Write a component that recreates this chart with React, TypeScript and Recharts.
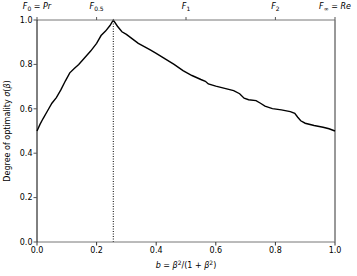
import React from 'react';
import { LineChart, Line, XAxis, YAxis, ReferenceLine, Label } from 'recharts';

// mixing parameter b = beta^2/(1+beta^2)
const bValues = [
  0, 0.01, 0.02, 0.035, 0.05, 0.065, 0.08, 0.095, 0.11, 0.125, 0.14, 0.16, 0.18, 0.2, 0.215, 0.23,
  0.245, 0.256, 0.27, 0.285, 0.3, 0.32, 0.34, 0.36, 0.38, 0.4, 0.43, 0.46, 0.49, 0.52, 0.55, 0.565,
  0.575, 0.6, 0.63, 0.66, 0.68, 0.695, 0.71, 0.735, 0.75, 0.765, 0.79, 0.82, 0.85, 0.865, 0.875,
  0.885, 0.9, 0.93, 0.96, 0.98, 1.0,
];
const optimality = [
  0.5, 0.53, 0.555, 0.59, 0.625, 0.65, 0.685, 0.725, 0.762, 0.782, 0.8, 0.83, 0.86, 0.895, 0.93, 0.95,
  0.975, 1.0, 0.972, 0.947, 0.935, 0.915, 0.895, 0.88, 0.865, 0.85, 0.825, 0.8, 0.772, 0.75, 0.732,
  0.724, 0.712, 0.702, 0.692, 0.682, 0.668, 0.648, 0.641, 0.637, 0.625, 0.612, 0.601, 0.595, 0.587,
  0.58, 0.562, 0.546, 0.535, 0.525, 0.517, 0.51, 0.5,
];
const peakB = 0.256;

const bottomTicks = [0, 0.2, 0.4, 0.6, 0.8, 1.0];
const leftTicks = [0, 0.2, 0.4, 0.6, 0.8, 1.0];
const topTicks = [0, 0.2, 0.5, 0.8, 1.0];
const topLabels = [
  { sub: '0', rest: 'Pr' },
  { sub: '0.5', rest: '' },
  { sub: '1', rest: '' },
  { sub: '2', rest: '' },
  { sub: '∞', rest: 'Re' },
];

const data = bValues.map((b, i) => ({ b, v: optimality[i] }));

const FONT = 'DejaVu Sans, sans-serif';

function TopTick(props: any) {
  const { x, y, payload } = props;
  const idx = topTicks.indexOf(payload.value);
  const lab = topLabels[idx];
  if (!lab) return null;
  return (
    <text x={x} y={y - 6} textAnchor="middle" fontSize={8} fontFamily={FONT} fill="#000">
      <tspan fontStyle="italic">F</tspan>
      <tspan fontSize={6} dy={2}>{lab.sub}</tspan>
      {lab.rest ? (
        <tspan dy={-2}>
          {' = '}
          <tspan fontStyle="italic">{lab.rest}</tspan>
        </tspan>
      ) : null}
    </text>
  );
}

function XLabel(props: any) {
  const { viewBox } = props;
  const cx = viewBox.x + viewBox.width / 2;
  return (
    <text x={cx} y={viewBox.y + 26} textAnchor="middle" fontSize={8} fontFamily={FONT} fill="#000">
      <tspan fontStyle="italic">b</tspan>
      {' = '}
      <tspan fontStyle="italic">β</tspan>
      <tspan fontSize={6} dy={-3}>2</tspan>
      <tspan dy={3}>/(1 + </tspan>
      <tspan fontStyle="italic">β</tspan>
      <tspan fontSize={6} dy={-3}>2</tspan>
      <tspan dy={3}>)</tspan>
    </text>
  );
}

function YLabel(props: any) {
  const { viewBox } = props;
  const cy = viewBox.y + viewBox.height / 2;
  const x = 10;
  return (
    <text
      x={x}
      y={cy}
      textAnchor="middle"
      fontSize={8}
      fontFamily={FONT}
      fill="#000"
      transform={`rotate(-90, ${x}, ${cy})`}
    >
      Degree of optimality <tspan fontStyle="italic">σ</tspan>(<tspan fontStyle="italic">β</tspan>)
    </text>
  );
}

export default function App() {
  const tickStyle = { fontSize: 8, fill: '#000', fontFamily: FONT };
  return (
    <div style={{ position: 'absolute', left: 0, top: 0, background: '#fff' }}>
      <LineChart
        width={357}
        height={276}
        data={data}
        margin={{ top: 0, right: 22, bottom: 0, left: 0 }}
      >
        <XAxis
          xAxisId="bottom"
          dataKey="b"
          type="number"
          domain={[0, 1]}
          ticks={bottomTicks}
          tickFormatter={(t: number) => t.toFixed(1)}
          height={34}
          tick={tickStyle}
          tickSize={3.5}
          tickMargin={2}
          axisLine={{ stroke: '#777', strokeWidth: 1 }}
          tickLine={{ stroke: '#333' }}
        >
          <Label content={<XLabel />} />
        </XAxis>
        <XAxis
          xAxisId="top"
          orientation="top"
          dataKey="b"
          type="number"
          domain={[0, 1]}
          ticks={topTicks}
          height={20}
          tick={<TopTick />}
          tickSize={3}
          axisLine={{ stroke: '#777', strokeWidth: 1 }}
          tickLine={{ stroke: '#555' }}
        />
        <YAxis
          yAxisId="left"
          type="number"
          domain={[0, 1]}
          ticks={leftTicks}
          tickFormatter={(t: number) => t.toFixed(1)}
          width={37}
          tick={tickStyle}
          tickSize={3.5}
          tickMargin={1}
          axisLine={{ stroke: '#000', strokeWidth: 1 }}
          tickLine={{ stroke: '#555' }}
        >
          <Label content={<YLabel />} />
        </YAxis>
        <ReferenceLine
          xAxisId="bottom"
          yAxisId="left"
          x={1}
          stroke="#333"
          strokeWidth={1}
        />
        <ReferenceLine
          xAxisId="bottom"
          yAxisId="left"
          x={peakB}
          stroke="#000"
          strokeWidth={1}
          strokeDasharray="1 1.5"
        />
        <Line
          xAxisId="bottom"
          yAxisId="left"
          type="linear"
          dataKey="v"
          stroke="#000"
          strokeWidth={1.4}
          dot={false}
          isAnimationActive={false}
        />
      </LineChart>
    </div>
  );
}
